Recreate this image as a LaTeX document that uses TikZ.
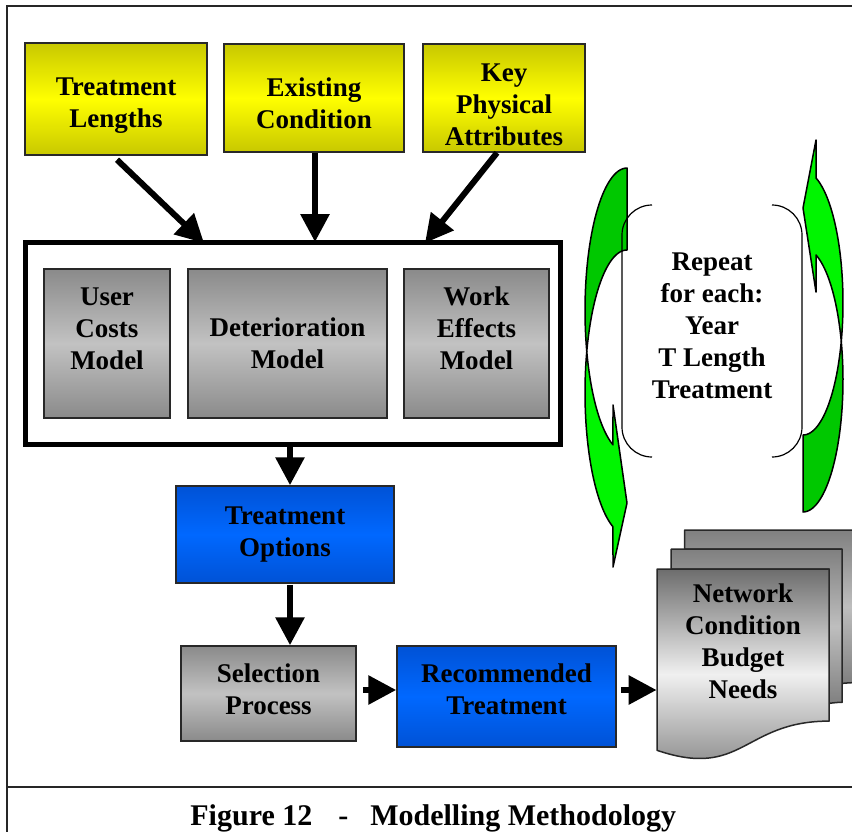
\documentclass[tikz,border=0pt]{standalone}
\usepackage{fontspec}
\setmainfont{Liberation Serif}
\usetikzlibrary{arrows.meta}

\definecolor{ydark}{RGB}{200,200,0}
\definecolor{ylight}{RGB}{255,255,0}
\definecolor{gdark}{RGB}{138,138,138}
\definecolor{glight}{RGB}{194,194,194}
\definecolor{bdark}{RGB}{0,82,214}
\definecolor{blight}{RGB}{0,104,255}
\definecolor{greenback}{RGB}{0,200,0}
\definecolor{greenfront}{RGB}{0,245,0}
\definecolor{edge}{RGB}{40,40,40}
\definecolor{docdark}{RGB}{128,128,128}
\definecolor{docmid}{RGB}{190,190,190}
\definecolor{doclight}{RGB}{240,240,240}

% strut that lowers the lines of a centred label
\newcommand{\lowerby}[1]{\rule{0pt}{#1}}

\begin{document}
\begin{tikzpicture}[x=0.5pt, y=-0.5pt,
  every node/.style={font=\fontsize{13.5}{16}\selectfont\bfseries, align=center, inner sep=0pt},
  box/.style={draw=edge, line width=0.75pt},
  yellowbox/.style={box, top color=ydark, bottom color=ydark, middle color=ylight},
  greybox/.style={box, top color=gdark, bottom color=gdark, middle color=glight},
  bluebox/.style={box, top color=bdark, bottom color=bdark, middle color=blight},
  flow/.style={line width=3pt, -{Triangle[length=14pt,width=14pt]}},
  frame/.style={line width=1pt, black!85},
  greenarrow/.style={draw=black, line width=0.75pt, line join=round},
  bracket/.style={draw=black, line width=0.6pt, rounded corners=15pt},
  page/.style={draw=edge, line width=0.75pt, line join=round}
]
\useasboundingbox (0,0) rectangle (852,831);
\clip (0,0) rectangle (852,831);

% page frame and caption rule
\draw[frame] (7,840) -- (7,6) -- (860,6);
\draw[frame] (7,787) -- (860,787);

% inputs
\node[yellowbox, minimum width=91pt, minimum height=56pt, text depth=0pt] (tl) at (116,99) {\lowerby{12.5pt}Treatment\\Lengths};
\node[yellowbox, minimum width=90pt, minimum height=54pt] (ec) at (314,98) {\lowerby{14.5pt}Existing\\Condition};
\node[yellowbox, minimum width=81pt, minimum height=54pt] (kpa) at (504,98) {\lowerby{15.5pt}Key\\Physical\\Attributes};

% model group
\node[draw=black, line width=2.5pt, fill=white, minimum width=267.5pt, minimum height=101pt] (models) at (293,343.5) {};
\node[greybox, minimum width=63pt, minimum height=74.5pt, text depth=15pt] (uc) at (107,343.5) {User\\Costs\\Model};
\node[greybox, minimum width=99.5pt, minimum height=74.5pt] (det) at (287.5,343.5) {Deterioration\\Model};
\node[greybox, minimum width=72.5pt, minimum height=74.5pt, text depth=15pt] (we) at (476.5,343.5) {Work\\Effects\\Model};

% processing chain
\node[bluebox, minimum width=109pt, minimum height=48.5pt] (to) at (285,534.5) {Treatment\\Options};
\node[greybox, minimum width=87.5pt, minimum height=47.5pt, text depth=4pt] (sp) at (268.5,693.5) {Selection\\Process};
\node[bluebox, minimum width=109.5pt, minimum height=50.5pt, text depth=7pt] (rt) at (506.5,696.5) {Recommended\\Treatment};

% input arrows
\draw[flow] ([xshift=0.5pt,yshift=-2pt]tl.south) -- ([xshift=-44.5pt,yshift=-1.5pt]models.north);
\draw[flow] ([xshift=0.5pt]ec.south) -- ([xshift=11pt,yshift=-1pt]models.north);
\draw[flow] ([xshift=-3.5pt]kpa.south) -- ([xshift=66pt,yshift=-1.5pt]models.north);

% chain arrows
\draw[flow] ([xshift=-1.5pt]models.south) -- ([xshift=2.5pt]to.north);
\draw[flow] ([xshift=2.5pt,yshift=-0.5pt]to.south) -- ([xshift=10.75pt]sp.north);
\draw[flow] ([xshift=3pt,yshift=1.75pt]sp.east) -- ([yshift=3.25pt]rt.west);

% output documents
\path[page, top color=docdark, bottom color=docdark, middle color=docmid]
  (684.5,549.2) -- (684.5,530) -- (857,530) -- (857,682.6)
  .. controls (849.6,682.6) and (842.2,683.4) .. (842.2,683.4) -- (842.2,549.2) -- cycle;
\path[page, top color=docdark, bottom color=docdark, middle color=docmid]
  (671.2,569) -- (671.2,549.2) -- (842.2,549.2) -- (842.2,702.3)
  .. controls (835.7,702.3) and (829.2,703.4) .. (829.2,703.4) -- (829.2,569) -- cycle;
\path[page, top color=docdark!115, bottom color=docdark, middle color=doclight]
  (657,750.3) .. controls (743.1,779.6) and (743.1,721.1) .. (829.2,721.1)
  -- (829.2,569) -- (657,569) -- cycle;
\node[minimum width=86pt] (docs) at (743,641) {Network\\Condition\\Budget\\Needs};
\draw[flow] ([xshift=2pt,yshift=3.25pt]rt.east) -- ([yshift=-24.5pt]docs.west);

% looping arrow, left side (back face, then front face with head)
\filldraw[greenarrow, fill=greenback]
  plot[domain=270:163.3, samples=40, variable=\t] ({627+42*cos(\t)},{310.5+142.5*sin(\t)})
  -- plot[domain=196.7:270, samples=40, variable=\t] ({627+42*cos(\t)},{392.5+142.5*sin(\t)})
  -- cycle;
\filldraw[greenarrow, fill=greenfront]
  plot[domain=163.3:109.5, samples=40, variable=\t] ({627+42*cos(\t)},{310.5+142.5*sin(\t)})
  -- (613,405) -- (627,503) -- (613,567)
  -- plot[domain=109.5:196.7, samples=40, variable=\t] ({627+42*cos(\t)},{392.5+142.5*sin(\t)})
  -- cycle;

% looping arrow, right side
\filldraw[greenarrow, fill=greenback]
  plot[domain=90:-16.9, samples=40, variable=\t] ({803+40*cos(\t)},{379.9+132.1*sin(\t)})
  -- plot[domain=16.9:90, samples=40, variable=\t] ({803+40*cos(\t)},{302.9+132.1*sin(\t)})
  -- cycle;
\filldraw[greenarrow, fill=greenfront]
  plot[domain=-16.9:-71, samples=40, variable=\t] ({803+40*cos(\t)},{379.9+132.1*sin(\t)})
  -- (816,292) -- (803,208) -- (816,140)
  -- plot[domain=-71:16.9, samples=40, variable=\t] ({803+40*cos(\t)},{302.9+132.1*sin(\t)})
  -- cycle;

% bracket pair around the loop text
\node (repeat) at (712,326) {Repeat\\for each:\\Year\\T Length\\Treatment};
\draw[bracket] (652,205) -- (622,205) -- (622,457) -- (652,457);
\draw[bracket] (772,205) -- (802,205) -- (802,457) -- (772,457);

% caption
\node[font=\fontsize{15}{17}\selectfont\bfseries, anchor=base west] (caption) at (190,825)
  {Figure 12\hspace{13pt}-\hspace{11pt}Modelling Methodology};
\end{tikzpicture}
\end{document}
